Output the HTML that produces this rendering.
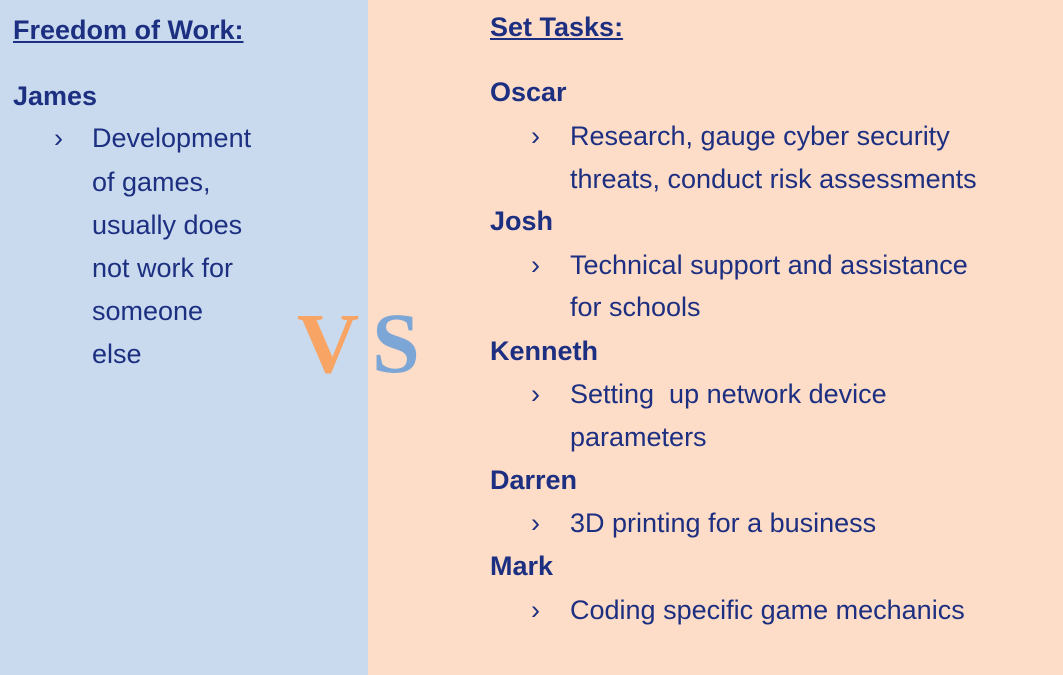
<!DOCTYPE html>
<html><head><meta charset="utf-8"><style>
body{margin:0;width:1063px;height:675px;position:relative;overflow:hidden;font-family:"Liberation Sans",sans-serif;color:#1c2f80;}
.l{position:absolute;left:0;top:0;width:368px;height:675px;background:#c9daee}
.r{position:absolute;left:368px;top:0;width:695px;height:675px;background:#fddcc8}
.t{position:absolute;font-size:27px;white-space:nowrap;line-height:34px;transform:translateY(-17px)}
.b{font-weight:bold}
.u{text-decoration:underline}
.vs{position:absolute;font-family:"Liberation Serif",serif;font-weight:bold;font-size:86px;line-height:86px}
</style></head><body>
<div class="l"></div><div class="r"></div>
<div class="t b u" style="left:13px;top:30px">Freedom of Work:</div>
<div class="t b" style="left:13px;top:96px">James</div>
<div class="t" style="left:54px;top:138px">›</div>
<div class="t" style="left:92px;top:138px">Development</div>
<div class="t" style="left:92px;top:182px">of games,</div>
<div class="t" style="left:92px;top:225px">usually does</div>
<div class="t" style="left:92px;top:268px">not work for</div>
<div class="t" style="left:92px;top:311px">someone</div>
<div class="t" style="left:92px;top:354px">else</div>

<div class="vs" style="left:297px;top:300px;color:#f7a464">V</div>
<div class="vs" style="left:372px;top:300px;color:#7ba6d6">S</div>

<div class="t b u" style="left:490px;top:27px">Set Tasks:</div>
<div class="t b" style="left:490px;top:92px">Oscar</div>
<div class="t" style="left:531px;top:136px">›</div>
<div class="t" style="left:570px;top:136px">Research, gauge cyber security</div>
<div class="t" style="left:570px;top:179px">threats, conduct risk assessments</div>
<div class="t b" style="left:490px;top:221px">Josh</div>
<div class="t" style="left:531px;top:265px">›</div>
<div class="t" style="left:570px;top:265px">Technical support and assistance</div>
<div class="t" style="left:570px;top:307px">for schools</div>
<div class="t b" style="left:490px;top:351px">Kenneth</div>
<div class="t" style="left:531px;top:394px">›</div>
<div class="t" style="left:570px;top:394px">Setting&nbsp; up network device</div>
<div class="t" style="left:570px;top:437px">parameters</div>
<div class="t b" style="left:490px;top:480px">Darren</div>
<div class="t" style="left:531px;top:523px">›</div>
<div class="t" style="left:570px;top:523px">3D printing for a business</div>
<div class="t b" style="left:490px;top:566px">Mark</div>
<div class="t" style="left:531px;top:610px">›</div>
<div class="t" style="left:570px;top:610px">Coding specific game mechanics</div>
</body></html>
